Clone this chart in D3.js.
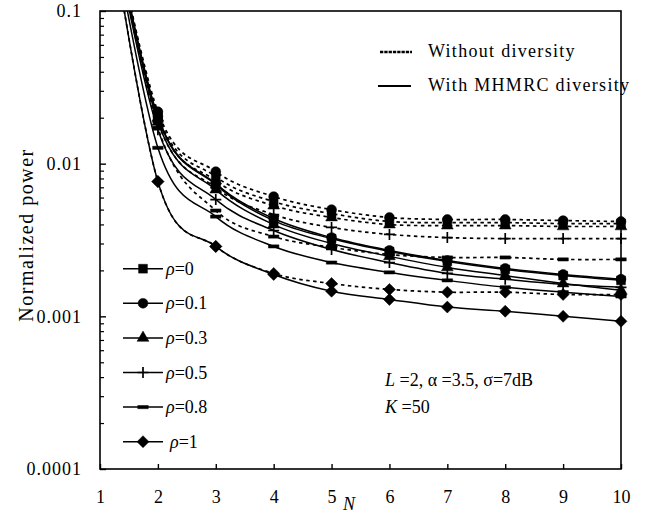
<!DOCTYPE html>
<html>
<head>
<meta charset="utf-8">
<script src="https://cdn.jsdelivr.net/npm/d3@7"></script>
<style>
  html, body { margin: 0; padding: 0; background: #fff; }
  svg text { font-family: "Liberation Serif", "Times New Roman", serif; fill: #000; }
</style>
</head>
<body>
<svg id="chart" width="650" height="513"></svg>
<script>
// ---- data ----
const nValues = [1, 2, 3, 4, 5, 6, 7, 8, 9, 10];
const rhoLabels = ["0", "0.1", "0.3", "0.5", "0.8", "1"];
const markerKinds = ["square", "circle", "triangle", "plus", "dash", "diamond"];
const xTickLabels = [1, 2, 3, 4, 5, 6, 7, 8, 9, 10];
const yTickLabels = [0.1, 0.01, 0.001, 0.0001];

// normalized power without diversity (dotted)
const withoutRho0  = [1.0, 0.0209, 0.00822, 0.00564, 0.00471, 0.00418, 0.00411, 0.00411, 0.00405, 0.00405];
const withoutRho01 = [1.0, 0.0219, 0.00887, 0.00609, 0.00500, 0.00444, 0.00431, 0.00431, 0.00424, 0.00418];
const withoutRho03 = [1.0, 0.0200, 0.00774, 0.00531, 0.00444, 0.00399, 0.00393, 0.00393, 0.00388, 0.00388];
const withoutRho05 = [1.0, 0.0188, 0.00697, 0.00464, 0.00382, 0.00344, 0.00328, 0.00323, 0.00323, 0.00323];
const withoutRho08 = [1.0, 0.0172, 0.00493, 0.00333, 0.00283, 0.00254, 0.00243, 0.00243, 0.00236, 0.00236];
const withoutRho1  = [1.0, 0.00763, 0.00287, 0.00191, 0.00164, 0.00150, 0.00144, 0.00144, 0.00139, 0.00139];

// normalized power with MHMRC diversity (solid)
const mhmrcRho0  = [1.0, 0.0200, 0.00729, 0.00424, 0.00323, 0.00266, 0.00229, 0.00203, 0.00185, 0.00172];
const mhmrcRho01 = [1.0, 0.0203, 0.00740, 0.00437, 0.00328, 0.00270, 0.00232, 0.00206, 0.00188, 0.00175];
const mhmrcRho03 = [1.0, 0.0188, 0.00676, 0.00399, 0.00300, 0.00247, 0.00209, 0.00185, 0.00164, 0.00148];
const mhmrcRho05 = [1.0, 0.0167, 0.00582, 0.00365, 0.00274, 0.00225, 0.00191, 0.00175, 0.00162, 0.00155];
const mhmrcRho08 = [1.0, 0.0127, 0.00450, 0.00287, 0.00225, 0.00194, 0.00172, 0.00155, 0.00144, 0.00135];
const mhmrcRho1  = [1.0, 0.00763, 0.00287, 0.00188, 0.00146, 0.00129, 0.00115, 0.00108, 0.00100, 0.000928];

const withoutSeries = [withoutRho0, withoutRho01, withoutRho03, withoutRho05, withoutRho08, withoutRho1];
const mhmrcSeries = [mhmrcRho0, mhmrcRho01, mhmrcRho03, mhmrcRho05, mhmrcRho08, mhmrcRho1];

// ---- layout ----
const svg = d3.select("#chart");
const plot = { left: 100, right: 621, top: 11, bottom: 469 };

const x = d3.scaleLinear().domain([1, 10]).range([plot.left, plot.right]);
const y = d3.scaleLog().domain([0.0001, 0.1]).range([plot.bottom, plot.top]);

svg.append("defs").append("clipPath").attr("id", "plotClip")
  .append("rect")
  .attr("x", plot.left).attr("y", plot.top)
  .attr("width", plot.right - plot.left).attr("height", plot.bottom - plot.top);

// ---- marker shapes ----
const plusType = {
  draw(ctx, size) {
    const r = Math.sqrt(size) / 2;
    ctx.moveTo(-r, 0); ctx.lineTo(r, 0);
    ctx.moveTo(0, -r); ctx.lineTo(0, r);
  }
};
const dashType = {
  draw(ctx, size) {
    const w = Math.sqrt(size) / 2;
    ctx.rect(-w, -1.6, 2 * w, 3.2);
  }
};
const diamondType = {
  draw(ctx, size) {
    const r = Math.sqrt(size) / 2;
    ctx.moveTo(0, -r); ctx.lineTo(r, 0); ctx.lineTo(0, r); ctx.lineTo(-r, 0); ctx.closePath();
  }
};
const markerDefs = {
  square:   { type: d3.symbolSquare,   size: 78,  fill: true },
  circle:   { type: d3.symbolCircle,   size: 76,  fill: true },
  triangle: { type: d3.symbolTriangle, size: 60,  fill: true },
  plus:     { type: plusType,          size: 121, fill: false },
  dash:     { type: dashType,          size: 110, fill: true },
  diamond:  { type: diamondType,       size: 144, fill: true }
};
function drawMarker(g, kind, cx, cy) {
  const m = markerDefs[kind];
  g.append("path")
    .attr("d", d3.symbol().type(m.type).size(m.size)())
    .attr("transform", `translate(${cx},${cy})`)
    .attr("fill", m.fill ? "#000" : "none")
    .attr("stroke", "#000")
    .attr("stroke-width", m.fill ? 0.5 : 1.7);
}

// ---- axes ----
const minorTicks = [];
[0.0001, 0.001, 0.01].forEach(d => { for (let k = 2; k <= 9; k++) minorTicks.push(d * k); });

const yMinor = svg.append("g").attr("transform", `translate(${plot.left},0)`)
  .call(d3.axisLeft(y).tickValues(minorTicks).tickSize(-4).tickFormat(""));
yMinor.select(".domain").remove();
yMinor.selectAll("line").attr("stroke-width", 1.2);

const yAxis = svg.append("g").attr("transform", `translate(${plot.left},0)`)
  .call(d3.axisLeft(y).tickValues(yTickLabels).tickSize(-6).tickPadding(18)
    .tickFormat(d => String(d)));
yAxis.select(".domain").remove();
yAxis.selectAll("line").attr("stroke-width", 1.4);
yAxis.selectAll("text")
  .attr("font-family", "Liberation Serif, serif")
  .attr("font-size", 18).style("letter-spacing", "1px");

const xAxis = svg.append("g").attr("transform", `translate(0,${plot.bottom})`)
  .call(d3.axisBottom(x).tickValues(xTickLabels).tickSize(-5).tickPadding(21)
    .tickFormat(d => String(d)));
xAxis.select(".domain").remove();
xAxis.selectAll("line").attr("stroke-width", 1.4);
xAxis.selectAll("text")
  .attr("font-family", "Liberation Serif, serif")
  .attr("font-size", 18);

// ---- curves ----
const line = d3.line()
  .x((d, i) => x(nValues[i]))
  .y(d => y(d))
  .curve(d3.curveCardinal.tension(0));

const curves = svg.append("g").attr("clip-path", "url(#plotClip)");
withoutSeries.forEach(s => {
  curves.append("path").attr("d", line(s))
    .attr("fill", "none").attr("stroke", "#000")
    .attr("stroke-width", 1.7).attr("stroke-dasharray", "3.5,3.5");
});
mhmrcSeries.forEach(s => {
  curves.append("path").attr("d", line(s))
    .attr("fill", "none").attr("stroke", "#000")
    .attr("stroke-width", 1.5);
});

// markers on every point that falls inside the value range
const markers = svg.append("g");
[withoutSeries, mhmrcSeries].forEach(group => {
  group.forEach((s, si) => {
    s.forEach((v, i) => {
      if (v <= 0.1 && v >= 0.0001) drawMarker(markers, markerKinds[si], x(nValues[i]), y(v));
    });
  });
});

// ---- frame ----
svg.append("rect")
  .attr("x", plot.left).attr("y", plot.top)
  .attr("width", plot.right - plot.left).attr("height", plot.bottom - plot.top)
  .attr("fill", "none").attr("stroke", "#000").attr("stroke-width", 1.6);

// ---- axis titles ----
svg.append("text")
  .attr("transform", "translate(33,235) rotate(-90)")
  .attr("text-anchor", "middle")
  .attr("font-size", 20).style("letter-spacing", "1.5px")
  .text("Normalized power");

svg.append("text")
  .attr("x", 343).attr("y", 510)
  .attr("font-size", 18).attr("font-style", "italic")
  .text("N");

// ---- line style legend ----
const styleLegend = svg.append("g");
styleLegend.append("line")
  .attr("x1", 380).attr("x2", 412).attr("y1", 52).attr("y2", 52)
  .attr("stroke", "#000").attr("stroke-width", 2.7).attr("stroke-dasharray", "3.3,1");
styleLegend.append("text").attr("x", 428).attr("y", 57)
  .attr("font-size", 18).style("letter-spacing", "1.3px")
  .text("Without diversity");
styleLegend.append("line")
  .attr("x1", 378).attr("x2", 411).attr("y1", 86).attr("y2", 86)
  .attr("stroke", "#000").attr("stroke-width", 2);
styleLegend.append("text").attr("x", 428).attr("y", 91)
  .attr("font-size", 18).style("letter-spacing", "1.3px")
  .text("With MHMRC diversity");

// ---- correlation legend ----
const rhoLegend = svg.append("g");
rhoLabels.forEach((lab, i) => {
  const cy = 268.7 + i * 34.6;
  rhoLegend.append("line")
    .attr("x1", 123).attr("x2", 163).attr("y1", cy).attr("y2", cy)
    .attr("stroke", "#000").attr("stroke-width", 1.5);
  drawMarker(rhoLegend, markerKinds[i], 143, cy);
  const t = rhoLegend.append("text").attr("x", i === 5 ? 170 : 166).attr("y", cy + 6)
    .attr("font-size", 18);
  t.append("tspan").attr("font-style", "italic").text("ρ");
  t.append("tspan").text("=" + lab);
});

// ---- parameter note ----
const note1 = svg.append("text").attr("x", 385).attr("y", 386).attr("font-size", 18);
note1.append("tspan").attr("font-style", "italic").text("L");
note1.append("tspan").text(" =2, α =3.5, σ=7dB");
const note2 = svg.append("text").attr("x", 385).attr("y", 413).attr("font-size", 18);
note2.append("tspan").attr("font-style", "italic").text("K");
note2.append("tspan").text(" =50");
</script>
</body>
</html>
